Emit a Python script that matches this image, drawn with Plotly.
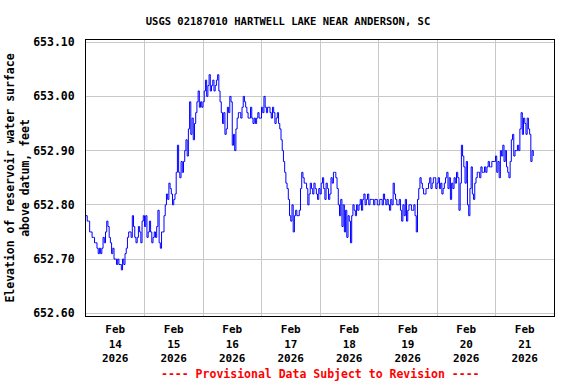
import plotly.graph_objects as go
import pandas as pd

TITLE = "USGS 02187010 HARTWELL LAKE NEAR ANDERSON, SC"
Y_TITLE = "Elevation of reservoir water surface<br>above datum, feet"
FOOTER = "---- Provisional Data Subject to Revision ----"

BASE_FT = 652.00
# Water level in hundredths of a foot above 652.00 ft, one reading every 30 minutes from midnight
feb14 = [78, 77, 77, 75, 75, 74, 74, 73, 73, 72, 71, 72, 71, 72, 74, 73, 75, 77, 76, 74, 73, 71, 72, 70,
         70, 69, 70, 69, 69, 68, 70, 69, 71, 72, 74, 75, 75, 74, 78, 76, 74, 73, 74, 76, 75, 73, 77, 78]
feb15 = [76, 78, 74, 75, 77, 75, 73, 74, 75, 74, 76, 79, 73, 72, 75, 75, 78, 80, 82, 81, 84, 83, 82, 80,
         81, 82, 86, 91, 86, 85, 88, 86, 88, 90, 92, 89, 94, 99, 93, 96, 92, 95, 97, 99, 101, 98, 99, 98]
feb16 = [99, 101, 103, 100, 102, 104, 101, 102, 103, 101, 102, 103, 104, 101, 99, 97, 95, 97, 93, 94, 98, 97, 100, 99,
         91, 93, 90, 94, 96, 97, 97, 96, 98, 100, 99, 98, 97, 96, 96, 98, 96, 95, 96, 95, 96, 97, 96, 96]
feb17 = [98, 97, 100, 98, 97, 98, 98, 97, 96, 98, 97, 95, 96, 97, 95, 94, 92, 90, 88, 86, 84, 83, 81, 78,
         77, 80, 75, 78, 79, 78, 78, 79, 83, 86, 85, 84, 84, 83, 80, 82, 84, 83, 82, 84, 83, 82, 81, 83]
feb18 = [82, 84, 85, 83, 81, 84, 83, 81, 82, 85, 84, 86, 86, 85, 83, 80, 78, 81, 76, 80, 75, 79, 74, 78,
         77, 73, 78, 80, 79, 78, 80, 79, 80, 81, 79, 81, 82, 80, 81, 82, 80, 81, 81, 81, 80, 81, 81, 80]
feb19 = [80, 81, 81, 80, 82, 81, 80, 81, 80, 79, 81, 80, 84, 82, 81, 80, 80, 81, 79, 77, 80, 78, 81, 77,
         79, 80, 80, 79, 79, 80, 78, 75, 81, 83, 85, 84, 83, 82, 82, 83, 83, 84, 85, 83, 84, 85, 85, 83]
feb20 = [84, 85, 83, 84, 82, 83, 84, 85, 86, 83, 85, 81, 84, 83, 85, 84, 86, 85, 79, 84, 91, 89, 87, 84,
         88, 80, 78, 83, 87, 82, 81, 84, 85, 86, 86, 85, 87, 86, 86, 87, 86, 87, 88, 87, 87, 88, 88, 88]
feb21 = [89, 86, 88, 85, 90, 89, 91, 88, 90, 87, 86, 85, 88, 92, 93, 89, 90, 90, 91, 90, 94, 97, 93, 96,
         95, 93, 96, 94, 93, 88, 90, 89]

days = ["2026-02-14", "2026-02-15", "2026-02-16", "2026-02-17",
        "2026-02-18", "2026-02-19", "2026-02-20", "2026-02-21"]
day_series = [feb14, feb15, feb16, feb17, feb18, feb19, feb20, feb21]

y_ticks = [652.60, 652.70, 652.80, 652.90, 653.00, 653.10]

x_vals, y_vals = [], []
for d, vals in zip(days, day_series):
    t = pd.date_range(d, periods=len(vals), freq="30min")
    x_vals.extend(t)
    y_vals.extend(round(BASE_FT + v / 100, 2) for v in vals)

tick_days = pd.to_datetime(days)
tickvals = tick_days + pd.Timedelta(hours=12)
ticktext = [f"{d:%b}<br>{d.day}<br>{d:%Y}" for d in tick_days]

FONT = "DejaVu Sans Mono"
GRID = "#c8c8c8"

fig = go.Figure()
fig.add_trace(go.Scatter(
    x=x_vals, y=y_vals, mode="lines",
    line=dict(color="#0000ff", width=1, shape="hv"),
    showlegend=False, hoverinfo="skip",
))

fig.update_layout(
    width=576, height=384,
    margin=dict(l=86, r=22, t=40, b=68),
    paper_bgcolor="white", plot_bgcolor="white",
    font=dict(family=FONT, size=11, color="black", weight="bold"),
    title=dict(text=TITLE, x=0.5, xref="container", xanchor="center",
               y=1 - 21 / 384, yref="container", yanchor="middle",
               font=dict(family=FONT, size=10.5, color="black", weight="bold")),
    xaxis=dict(
        type="date", automargin=False,
        range=["2026-02-14", "2026-02-22"],
        tickmode="array", tickvals=tickvals, ticktext=ticktext,
        showgrid=False, ticks="", ticklabelstandoff=3,
        tickfont=dict(family=FONT, size=11, color="black", weight="bold"),
        showline=True, linecolor="black", linewidth=1, mirror=True,
        zeroline=False,
        minor=dict(dtick=86400000, tick0="2026-02-14", showgrid=True,
                   gridcolor=GRID, gridwidth=1, ticks=""),
    ),
    yaxis=dict(
        automargin=False,
        range=[652.595, 653.104],
        tickmode="array", tickvals=y_ticks,
        ticktext=[f"{v:.2f}" for v in y_ticks],
        showgrid=True, gridcolor=GRID, gridwidth=1,
        ticks="", ticklabelstandoff=8,
        tickfont=dict(family=FONT, size=11.5, color="black", weight="bold"),
        showline=True, linecolor="black", linewidth=1, mirror=True,
        zeroline=False,
        title=dict(text=Y_TITLE, standoff=1,
                   font=dict(family=FONT, size=11.5, color="black", weight="bold")),
    ),
    annotations=[dict(
        text=FOOTER, xref="paper", yref="paper", x=0.5, y=-0.211,
        xanchor="center", yanchor="middle", showarrow=False,
        font=dict(family=FONT, size=11.5, color="#ff0000", weight="bold"),
    )],
)

fig.write_html("out.html", config={"displayModeBar": False},
               post_script="document.body.style.margin='0px';document.body.style.padding='0px';")
